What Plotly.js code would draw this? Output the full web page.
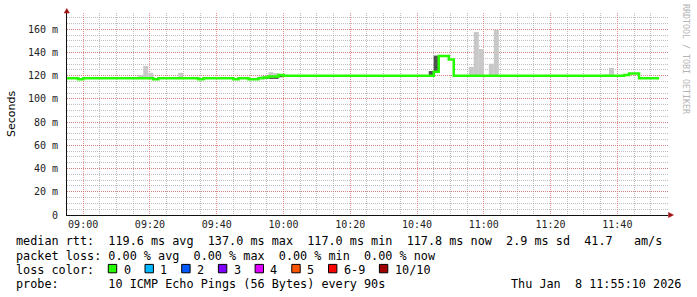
<!DOCTYPE html>
<html>
<head>
<meta charset="utf-8">
<script src="https://cdn.plot.ly/plotly-3.0.1.min.js"></script>
<style>html,body{margin:0;padding:0;background:#fff;}#chart{width:697px;height:297px;}</style>
</head>
<body>
<div id="chart"></div>
<script>
// ---------- data ----------
const day = '2026-01-08 ';
const rangeStart = '08:55:10';
const rangeEnd = '11:55:10';

// median RTT (ms), step changes (90 s probe interval)
const medianTimes = ['08:55:10','08:58:30','09:00:00','09:21:00','09:22:30','09:34:30','09:36:00','09:45:00','09:46:30',
  '09:49:30','09:52:30','09:54:00','09:55:30','09:58:30','10:00:00','10:45:00','10:46:30','10:49:30','10:51:00',
  '11:42:00','11:43:30','11:46:30','11:52:30'];
const medianMs = [117.8,117.0,117.8,117.0,117.8,117.0,117.8,117.0,117.8,
  117.0,117.8,118.4,119.2,120.7,120.0,123.5,137.0,134.0,120.0,
  120.5,121.8,117.8,117.8];

// light smoke (spread of individual pings)
const smokeLightTimes = ['09:16:30','09:18:00','09:19:30','09:28:30','09:52:30','09:54:00','09:55:30','09:57:00',
  '10:55:30','10:57:00','10:58:30','11:01:30','11:03:00','11:36:00','11:37:30'];
const smokeLightLow  = [117.5,117.5,117.5,117.5,117.5,117.5,117.5,117.5,119.5,119.5,119.5,119.5,119.5,119.5,119.5];
const smokeLightHigh = [120.7,128.4,122.5,122.5,119.5,119.5,123.0,122.2,127.7,157.7,143.0,130.3,159.6,121.0,126.7];

// dark smoke (dense part)
const smokeDarkTimes = ['09:54:00','09:55:30','09:57:00','09:58:30','10:43:30','10:45:00'];
const smokeDarkLow   = [117.2,117.2,117.2,118.7,120.0,123.5];
const smokeDarkHigh  = [118.6,118.6,118.6,120.0,124.0,137.3];

// blank area under the raised median
const blankTimes = ['10:46:30','10:48:00','10:49:30'];
const blankLow   = [121.0,121.0,121.0];
const blankHigh  = [137.0,137.0,134.0];

// axis ticks
const yTickVals = [0,20,40,60,80,100,120,140,160];
const yTickText = ['0','20 m','40 m','60 m','80 m','100 m','120 m','140 m','160 m'];

// legend text
const rttStats = ['119.6 ms avg','137.0 ms max','117.0 ms min','117.8 ms now','2.9 ms sd','41.7   am/s'];
const lossStats = ['0.00 % avg','0.00 % max','0.00 % min','0.00 % now'];
const lossLabels = ['0','1','2','3','4','5','6-9','10/10'];
const lossColors = ['#26ff00','#00b8ff','#0059ff','#7e00ff','#dd00ff','#ff5500','#ff0000','#a10000'];
const probeText = '10 ICMP Echo Pings (56 Bytes) every 90s';
const stampText = 'Thu Jan  8 11:55:10 2026';
const watermark = 'RRDTOOL / TOBI OETIKER';

// ---------- geometry helpers ----------
const PL = 67, PR = 668, PT = 13, PB = 215;
const PW = PR - PL, PH = PB - PT;
const px = x => (x - PL) / PW;
const py = y => (PB - y) / PH;
const nb = s => s.replace(/ /g, '\u00a0');
const T = arr => arr.map(t => day + t);
const diff = (hi, lo) => hi.map((v, i) => v - lo[i]);

const STEP = 90000;
const traces = [
  {type:'bar', x:T(blankTimes), y:diff(blankHigh, blankLow), base:blankLow, width:STEP, offset:0,
   marker:{color:'#ffffff', line:{width:0}}, hoverinfo:'skip'},
  {type:'bar', x:T(smokeLightTimes), y:diff(smokeLightHigh, smokeLightLow), base:smokeLightLow, width:STEP, offset:0,
   marker:{color:'#c8c8c8', line:{width:0}}, hoverinfo:'skip'},
  {type:'bar', x:T(smokeDarkTimes), y:diff(smokeDarkHigh, smokeDarkLow), base:smokeDarkLow, width:STEP, offset:0,
   marker:{color:'#505050', line:{width:0}}, hoverinfo:'skip'},
  {type:'scatter', mode:'lines', x:T(medianTimes), y:medianMs, line:{shape:'hv', color:lossColors[0], width:2.5}}
];

const mono = 'DejaVu Sans Mono';
const lineFont = {family:mono, size:11.8, color:'#000'};
const annotations = [];
function txt(s, x, y, extra) {
  annotations.push(Object.assign({text:nb(s), xref:'paper', yref:'paper', x:px(x), y:py(y),
    xanchor:'left', yanchor:'middle', showarrow:false, font:lineFont, borderpad:0, borderwidth:0}, extra || {}));
}
txt('median rtt:  ' + rttStats.join('  '), 16, 241);
txt('packet loss: ' + lossStats.join('  '), 16, 255.5);
txt('loss color:', 16, 269.5);
txt('probe:       ' + probeText, 16, 283.8);
txt(stampText, 681, 283.8, {xanchor:'right'});
txt(watermark, 686, 59, {xanchor:'center', textangle:90, font:{family:mono, size:8.3, color:'#b4b4b4'}});

const shapes = [];
let bx = 108.3;
lossLabels.forEach((lab, i) => {
  shapes.push({type:'rect', xref:'paper', yref:'paper', x0:px(bx), x1:px(bx + 8.4), y0:py(272.8), y1:py(264.4),
    fillcolor:lossColors[i], line:{color:'#000', width:1}});
  txt(lab, bx + 15.2, 269.5);
  bx += 36.7 + (lab.length - 1) * 7.1;
});
// axis arrows
shapes.push({type:'path', xref:'paper', yref:'paper',
  path:`M ${px(64.2)} ${py(13)} L ${px(69.4)} ${py(13)} L ${px(66.8)} ${py(8.5)} Z`,
  fillcolor:'#a01010', line:{color:'#a01010', width:0.5}});
shapes.push({type:'path', xref:'paper', yref:'paper',
  path:`M ${px(668.5)} ${py(212.4)} L ${px(668.5)} ${py(217.6)} L ${px(673.5)} ${py(215)} Z`,
  fillcolor:'#a01010', line:{color:'#a01010', width:0.5}});

const majorGrid = 'rgba(225,100,100,0.7)';
const minorGrid = 'rgba(150,150,150,0.6)';
const layout = {
  width:697, height:297,
  margin:{l:PL, r:697 - PR, t:PT, b:297 - PB, pad:0},
  paper_bgcolor:'#fff', plot_bgcolor:'#fff',
  showlegend:false, barmode:'overlay',
  font:{family:mono, size:10, color:'#222'},
  xaxis:{type:'date', range:[day + rangeStart, day + rangeEnd], tickformat:'%H:%M',
    tick0:day + '09:00:00', dtick:1200000, tickmode:'linear',
    showgrid:true, gridcolor:majorGrid, griddash:'1px,1px', gridwidth:1,
    minor:{tick0:day + '09:00:00', dtick:300000, showgrid:true, gridcolor:minorGrid, griddash:'1px,1px', gridwidth:1},
    showline:true, linecolor:'#111', linewidth:1, zeroline:false, ticks:'',
    tickfont:{family:mono, size:10, color:'#222'}, fixedrange:true},
  yaxis:{range:[0, 174], tickmode:'array', tickvals:yTickVals, ticktext:yTickText,
    showgrid:true, gridcolor:majorGrid, griddash:'1px,1px', gridwidth:1,
    minor:{tick0:0, dtick:5, showgrid:true, gridcolor:minorGrid, griddash:'1px,1px', gridwidth:1},
    showline:true, linecolor:'#111', linewidth:1, zeroline:false, ticks:'', ticklabelstandoff:6,
    tickfont:{family:mono, size:10, color:'#222'},
    title:{text:'Seconds', font:{family:'DejaVu Sans', size:11, color:'#000'}, standoff:10}, fixedrange:true},
  annotations:annotations,
  shapes:shapes
};
Plotly.newPlot('chart', traces, layout, {displayModeBar:false, staticPlot:true});
</script>
</body>
</html>
